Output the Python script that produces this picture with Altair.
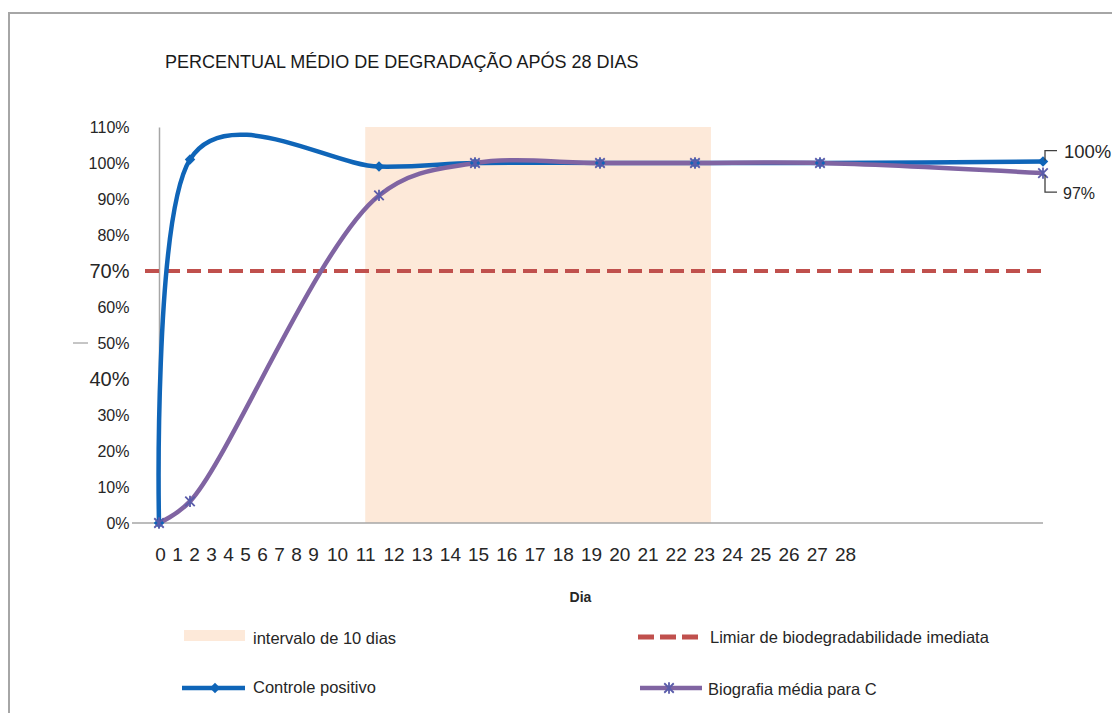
import altair as alt
import pandas as pd

# ---------------- data ----------------
dias = [0, 2, 11, 15, 19, 23, 27, 28]
controle_positivo = [0.0, 1.01, 0.99, 1.0, 1.0, 1.0, 1.0, 1.004]
biografia_media = [0.0, 0.06, 0.91, 1.0, 1.0, 1.0, 1.0, 0.972]
rotulos_dias = list(range(0, 29))
rotulos_y = [0.0, 0.1, 0.2, 0.3, 0.4, 0.5, 0.6, 0.7, 0.8, 0.9, 1.0, 1.1]
limiar = [0.7]
intervalo_inicio = [11]
intervalo_fim = [23.25]
titulo = "PERCENTUAL MÉDIO DE DEGRADAÇÃO APÓS 28 DIAS"
titulo_x = "Dia"
legenda = ["intervalo de 10 dias", "Limiar de biodegradabilidade imediata",
           "Controle positivo", "Biografia média para C"]

# ---------------- style ----------------
W, H = 884, 396
FONT = "Liberation Sans"
BLUE = "#0F65B8"
PURPLE = "#8064A2"
STAR_COL = "#5A5CAA"
RED = "#C0504D"
PEACH = "#FDE9D9"
GRAY = "#A6A6A6"
TXT = "#262626"
STAR_PATH = "M-1,-1L1,1M-1,1L1,-1M0,-1.2L0,1.2"

data_x_scale = alt.Scale(domain=dias, range=[0, 31, 220, 316, 441, 536, 661, 884],
                         nice=False, zero=False)
label_x_scale = alt.Scale(domain=[0, 9, 10, 28], range=[1, 154, 178, 686],
                          nice=False, zero=False)
y_scale = alt.Scale(domain=[0, 1.1], nice=False, zero=True)

y_axis = alt.Axis(
    values=rotulos_y, format=".0%", title=None, grid=False, ticks=False, tickSize=0,
    domain=True, domainColor=GRAY, domainWidth=1.5, labelPadding=30,
    labelFont=FONT, labelColor=TXT, labelOverlap=False,
    labelFontSize={"condition": {"test": "abs(datum.value - 0.7) < 0.001 || abs(datum.value - 0.4) < 0.001",
                                 "value": 20}, "value": 16},
)

x_data = alt.X("dia:Q", scale=data_x_scale, axis=None)
y_val = alt.Y("valor:Q", scale=y_scale, axis=y_axis)

one = pd.DataFrame({"k": [0]})
df_c = pd.DataFrame({"dia": dias, "valor": controle_positivo})
df_b = pd.DataFrame({"dia": dias, "valor": biografia_media})
df_int = pd.DataFrame({"inicio": intervalo_inicio, "fim": intervalo_fim})
df_lim = pd.DataFrame({"valor": limiar})

# outer frame
frame = alt.Chart(one).mark_rect(fillOpacity=0, stroke=GRAY, strokeWidth=2).encode(
    x=alt.value(-150), x2=alt.value(2000), y=alt.value(-114), y2=alt.value(2000))

# 10-day window (carries the x axis)
faixa = alt.Chart(df_int).mark_rect(color=PEACH).encode(
    x=alt.X("inicio:Q", scale=label_x_scale,
            axis=alt.Axis(values=rotulos_dias, title=titulo_x, grid=False, ticks=False, tickSize=0,
                          domain=False, labelPadding=22, labelFontSize=19, labelFont=FONT,
                          labelColor=TXT, labelFlush=False, labelOverlap=False,
                          titleX=421, titleY=74, titleFontSize=14, titleFontWeight="bold",
                          titleFont=FONT, titleBaseline="middle", titleAlign="center",
                          titleColor=TXT)),
    x2="fim:Q",
    y=alt.YDatum(1.1, type="quantitative", scale=y_scale, axis=y_axis),
    y2=alt.datum(0),
)

base_line = alt.Chart(one).mark_rule(color=GRAY, strokeWidth=1.5).encode(
    x=alt.value(-27), x2=alt.value(W),
    y=alt.YDatum(0, type="quantitative", scale=y_scale, axis=y_axis))

dash50 = alt.Chart(one).mark_rule(color="#8C8C8C", strokeWidth=1).encode(
    x=alt.value(-86), x2=alt.value(-71),
    y=alt.YDatum(0.5, type="quantitative", scale=y_scale, axis=y_axis))

lim_line = alt.Chart(df_lim).mark_rule(color=RED, strokeWidth=4, strokeDash=[14, 7]).encode(
    x=alt.value(-14), x2=alt.value(W), y=y_val)

line_c = alt.Chart(df_c).mark_line(color=BLUE, strokeWidth=4.5, interpolate="cardinal").encode(
    x=x_data, y=y_val)
line_b = alt.Chart(df_b).mark_line(color=PURPLE, strokeWidth=4.5, interpolate="catmull-rom").encode(
    x=x_data, y=y_val)

pts_c = alt.Chart(df_c).mark_point(shape="diamond", filled=True, size=110, color=BLUE,
                                   opacity=1).encode(x=x_data, y=y_val)
pts_b = alt.Chart(df_b).mark_point(shape=STAR_PATH, filled=False, size=90, color=STAR_COL,
                                   strokeWidth=1.8, opacity=1).encode(x=x_data, y=y_val)

last = dias[-1]
ann_c = alt.Chart(df_c).transform_filter(alt.datum.dia == last).mark_text(
    align="left", baseline="middle", dx=21, dy=-10, fontSize=18.5, font=FONT, color=TXT
).encode(x=x_data, y=y_val, text=alt.Text("valor:Q", format=".0%"))
ann_b = alt.Chart(df_b).transform_filter(alt.datum.dia == last).mark_text(
    align="left", baseline="middle", dx=20, dy=21, fontSize=16, font=FONT, color=TXT
).encode(x=x_data, y=y_val, text=alt.Text("valor:Q", format=".0%"))

br_c = alt.Chart(df_c).transform_filter(alt.datum.dia == last).mark_point(
    shape="M0.2,-0.1L0.2,-1.1L1.4,-1.1", size=400, filled=False, color="#404040",
    strokeWidth=1.3, opacity=1).encode(x=x_data, y=y_val)
br_b = alt.Chart(df_b).transform_filter(alt.datum.dia == last).mark_point(
    shape="M0.2,0.2L0.2,1.9L1.4,1.9", size=400, filled=False, color="#404040",
    strokeWidth=1.3, opacity=1).encode(x=x_data, y=y_val)

title_mark = alt.Chart(one).mark_text(
    text=titulo, align="left", baseline="middle", fontSize=18, font=FONT, color="#1A1A1A"
).encode(x=alt.value(6), y=alt.value(-64))

# ---------------- legend ----------------
LFS = 16.5
leg = [
    alt.Chart(one).mark_rect(color=PEACH).encode(
        x=alt.value(25), x2=alt.value(86), y=alt.value(503), y2=alt.value(514)),
    alt.Chart(one).mark_text(text=legenda[0], align="left", baseline="middle", fontSize=LFS,
                             font=FONT, color=TXT).encode(x=alt.value(94), y=alt.value(512)),
    alt.Chart(one).mark_rule(color=RED, strokeWidth=5, strokeDash=[16, 6]).encode(
        x=alt.value(479), x2=alt.value(541), y=alt.value(510)),
    alt.Chart(one).mark_text(text=legenda[1], align="left", baseline="middle", fontSize=LFS,
                             font=FONT, color=TXT).encode(x=alt.value(551), y=alt.value(511)),
    alt.Chart(one).mark_rule(color=BLUE, strokeWidth=4.5).encode(
        x=alt.value(23), x2=alt.value(86), y=alt.value(561)),
    alt.Chart(one).mark_point(shape="diamond", filled=True, size=110, color=BLUE, opacity=1).encode(
        x=alt.value(56), y=alt.value(561)),
    alt.Chart(one).mark_text(text=legenda[2], align="left", baseline="middle", fontSize=LFS,
                             font=FONT, color=TXT).encode(x=alt.value(94), y=alt.value(561)),
    alt.Chart(one).mark_rule(color=PURPLE, strokeWidth=4.5).encode(
        x=alt.value(481), x2=alt.value(543), y=alt.value(561)),
    alt.Chart(one).mark_point(shape=STAR_PATH, filled=False, size=90, color=STAR_COL,
                              strokeWidth=1.8, opacity=1).encode(x=alt.value(510), y=alt.value(561)),
    alt.Chart(one).mark_text(text=legenda[3], align="left", baseline="middle", fontSize=LFS,
                             font=FONT, color=TXT).encode(x=alt.value(549), y=alt.value(563)),
]

chart = alt.layer(
    frame, faixa, base_line, dash50, lim_line, line_c, line_b, pts_c, pts_b,
    ann_c, ann_b, br_c, br_b, title_mark, *leg
).resolve_scale(x="independent").properties(
    width=W, height=H,
    autosize=alt.AutoSizeParams(type="none"),
    padding={"left": 151, "top": 119, "right": 69, "bottom": 190},
    background="white",
).configure_view(stroke=None)

chart.save("out.html", embed_options={"renderer": "svg", "actions": False})
